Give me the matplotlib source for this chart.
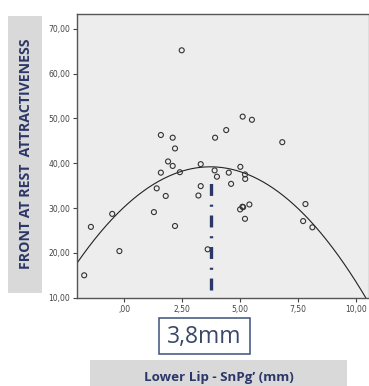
import matplotlib
matplotlib.use("Agg")
import matplotlib.pyplot as plt
import numpy as np
from matplotlib.patches import Rectangle

plt.rcParams['lines.scale_dashes'] = False

# data
x_vals = [2.48, 1.58, 2.09, 2.19, 3.92, 4.40, 5.11, 5.51, 6.82, 1.89, 2.09, 1.58, 2.40,
          3.30, 3.90, 4.00, 4.51, 5.01, 5.21, 5.22, 4.61, 1.40, 3.30, 1.79, 3.20, 1.28,
          -1.44, -0.52, -0.21, -1.73, 2.19, 3.60, 5.00, 5.10, 5.13, 5.40, 5.21, 7.72,
          7.82, 8.12]
y_vals = [65.2, 46.3, 45.7, 43.3, 45.7, 47.4, 50.4, 49.7, 44.7, 40.4, 39.4, 37.9, 38.0,
          39.8, 38.4, 37.0, 37.9, 39.2, 37.5, 36.5, 35.4, 34.4, 34.9, 32.7, 32.8, 29.1,
          25.8, 28.7, 20.4, 15.0, 26.0, 20.8, 29.7, 30.3, 30.2, 30.8, 27.6, 27.1,
          30.9, 25.7]
quad_coef = [30.25, 4.821, -0.649]   # b0, b1, b2
optimum_x = 3.75
optimum_line_y = [11.7, 36.3]
x_ticks = [0, 2.5, 5, 7.5, 10]
x_ticklabels = [",00", "2,50", "5,00", "7,50", "10,00"]
y_ticks = [10, 20, 30, 40, 50, 60, 70]
y_ticklabels = ["10,00", "20,00", "30,00", "40,00", "50,00", "60,00", "70,00"]
xlim = (-2.04, 10.52)
ylim = (10, 73.3)
y_label = "FRONT AT REST  ATTRACTIVENESS"
x_label = "Lower Lip - SnPg\u2019 (mm)"
box_label = "3,8mm"

W, H = 369, 386
fig = plt.figure(figsize=(W / 100, H / 100), dpi=100)
fig.patch.set_facecolor('white')

navy = '#2b3768'

# label boxes
fig.patches.append(Rectangle((8.3 / W, 1 - 293 / H), (42 - 8.3) / W, (293 - 15.7) / H,
                             transform=fig.transFigure, facecolor='#d9d9d9', edgecolor='none'))
fig.patches.append(Rectangle((90 / W, 0), (347 - 90) / W, (386 - 360) / H,
                             transform=fig.transFigure, facecolor='#d9d9d9', edgecolor='none'))
fig.patches.append(Rectangle((159 / W, 1 - 354 / H), (250 - 159) / W, (354 - 317.5) / H,
                             transform=fig.transFigure, facecolor='white', edgecolor='#3d4f7c',
                             linewidth=1.1))

fig.text(26 / W, 1 - 154 / H, y_label, rotation=90, ha='center', va='center',
         fontsize=10.2, fontweight='bold', color=navy, family='Open Sans')
fig.text(218.5 / W, 1 - 377.5 / H, x_label, ha='center', va='center',
         fontsize=9.6, fontweight='bold', color=navy, family='Open Sans')
fig.text(204.5 / W, 1 - 336.5 / H, box_label, ha='center', va='center',
         fontsize=16.5, color='#3a4868', family='Open Sans')

ax = fig.add_axes([77 / W, 1 - 297.7 / H, (368 - 77) / W, (297.7 - 14) / H])
ax.set_facecolor('#ededed')
ax.set_xlim(*xlim)
ax.set_ylim(*ylim)

xs = np.linspace(xlim[0], xlim[1], 400)
ys = quad_coef[0] + quad_coef[1] * xs + quad_coef[2] * xs ** 2
ax.plot(xs, ys, color='#222222', linewidth=0.8, zorder=2)

ax.scatter(x_vals, y_vals, s=13, facecolors='none', edgecolors='#333333',
           linewidths=0.8, zorder=3)

ax.plot([optimum_x, optimum_x], optimum_line_y, color=navy, linewidth=2.4,
        linestyle=(0, (8.6, 6.3, 1.5, 6.3)), solid_capstyle='butt',
        dash_capstyle='butt', zorder=4)

ax.set_xticks(x_ticks)
ax.set_xticklabels(x_ticklabels)
ax.set_yticks(y_ticks)
ax.set_yticklabels(y_ticklabels)
ax.tick_params(direction='out', length=3, width=0.8, color='#444444',
               labelsize=5.5, labelcolor='#444444', pad=2)

for side in ['left', 'bottom', 'top']:
    ax.spines[side].set_color('#555555')
    ax.spines[side].set_linewidth(1.0)
ax.spines['right'].set_color('#dddddd')
ax.spines['right'].set_linewidth(0.8)

fig.savefig('out.png', dpi=100)
